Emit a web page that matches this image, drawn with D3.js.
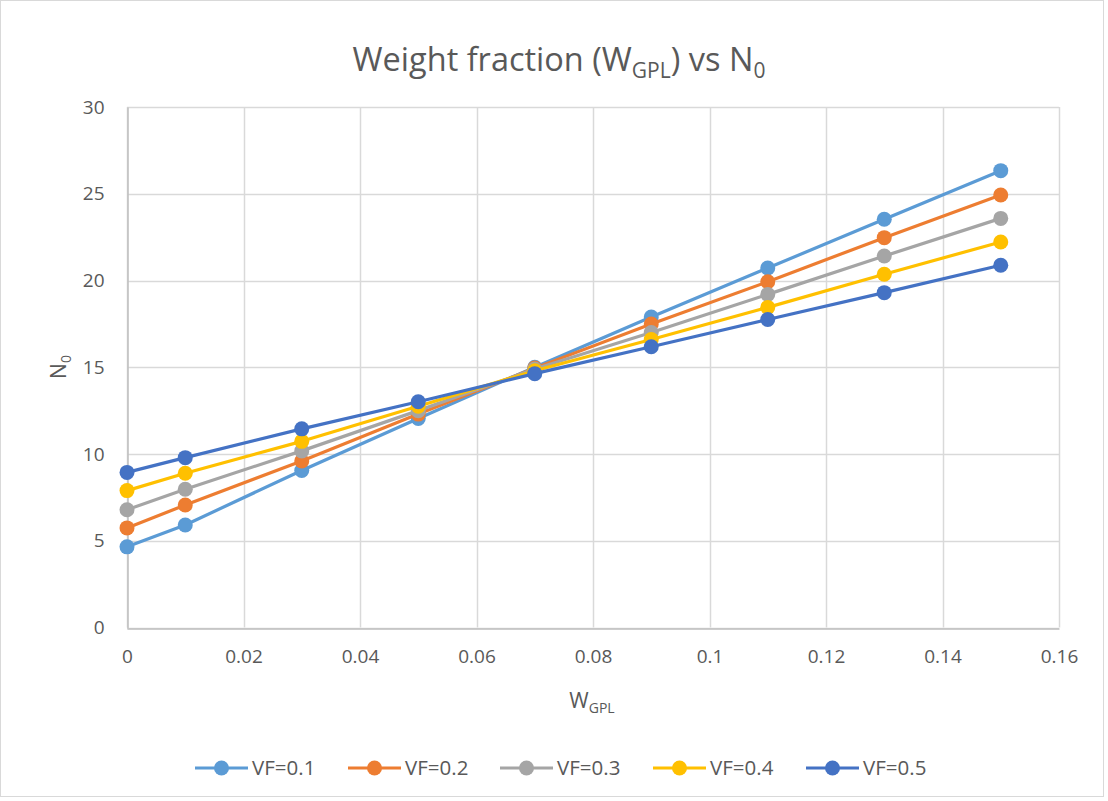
<!DOCTYPE html>
<html>
<head>
<meta charset="utf-8">
<script src="https://cdn.jsdelivr.net/npm/d3@7/dist/d3.min.js"></script>
<style>
  html, body { margin: 0; padding: 0; background: #fff; }
  svg { display: block; font-family: "Open Sans", "Noto Sans", sans-serif; }
</style>
</head>
<body>
<svg id="chart" width="1108" height="801"></svg>
<script>
// Weight fraction of GPL on the x axis
const wGpl = [0, 0.01, 0.03, 0.05, 0.07, 0.09, 0.11, 0.13, 0.15];

// N0 for each volume fraction
const vf01 = [4.65, 5.91, 9.05, 12.05, 15.0, 17.9, 20.72, 23.53, 26.33];
const vf02 = [5.74, 7.06, 9.6, 12.3, 14.95, 17.49, 19.93, 22.47, 24.93];
const vf03 = [6.79, 7.97, 10.18, 12.5, 14.9, 17.0, 19.2, 21.41, 23.58];
const vf04 = [7.89, 8.89, 10.73, 12.75, 14.8, 16.6, 18.45, 20.36, 22.22];
const vf05 = [8.94, 9.79, 11.45, 13.01, 14.63, 16.18, 17.75, 19.3, 20.88];

const seriesNames = ["VF=0.1", "VF=0.2", "VF=0.3", "VF=0.4", "VF=0.5"];
const seriesColors = ["#5B9BD5", "#ED7D31", "#A5A5A5", "#FFC000", "#4472C4"];
const seriesValues = [vf01, vf02, vf03, vf04, vf05];

const xTicks = [0, 0.02, 0.04, 0.06, 0.08, 0.1, 0.12, 0.14, 0.16];
const yTicks = [0, 5, 10, 15, 20, 25, 30];

const svg = d3.select("#chart");
const textColor = "#595959";
const gridColor = "#D9D9D9";

// chart-area frame
svg.append("rect")
  .attr("x", 0.5).attr("y", 0.5)
  .attr("width", 1103).attr("height", 796)
  .attr("fill", "#fff").attr("stroke", gridColor);

const plot = { left: 127, right: 1059, top: 107, bottom: 627.5 };

const x = d3.scaleLinear().domain([0, 0.16]).range([plot.left, plot.right]);
const y = d3.scaleLinear().domain([0, 30]).range([plot.bottom, plot.top]);

// gridlines
const grid = svg.append("g");
grid.selectAll("line.h").data(yTicks).join("line")
  .attr("x1", plot.left).attr("x2", plot.right)
  .attr("y1", d => Math.round(y(d)) + 0.5).attr("y2", d => Math.round(y(d)) + 0.5)
  .attr("stroke", gridColor).attr("stroke-width", 1.5);
grid.selectAll("line.v").data(xTicks).join("line")
  .attr("y1", plot.top).attr("y2", plot.bottom)
  .attr("x1", d => Math.round(x(d)) + 0.5).attr("x2", d => Math.round(x(d)) + 0.5)
  .attr("stroke", gridColor).attr("stroke-width", 1.5);

// axes
const xAxis = svg.append("g")
  .attr("transform", `translate(0,${Math.round(y(0)) + 0.5})`)
  .call(d3.axisBottom(x).tickValues(xTicks).tickSize(0).tickPadding(21)
    .tickFormat(d => d3.format("~g")(d)));
const yAxis = svg.append("g")
  .attr("transform", `translate(${Math.round(x(0)) + 0.5},0)`)
  .call(d3.axisLeft(y).tickValues(yTicks).tickSize(0).tickPadding(23));
[xAxis, yAxis].forEach(a => {
  a.select(".domain").attr("stroke", "#BFBFBF").attr("stroke-width", 1.5);
  a.selectAll("text").attr("fill", textColor).attr("font-size", 19)
    .attr("font-family", '"Open Sans", sans-serif');
});

// series lines and markers
const line = d3.line().x((d, i) => x(wGpl[i])).y(d => y(d));
seriesValues.forEach((vals, s) => {
  const g = svg.append("g");
  g.append("path").datum(vals)
    .attr("d", line).attr("fill", "none")
    .attr("stroke", seriesColors[s]).attr("stroke-width", 3.2)
    .attr("stroke-linejoin", "round");
  g.selectAll("circle").data(vals).join("circle")
    .attr("cx", (d, i) => x(wGpl[i])).attr("cy", d => y(d))
    .attr("r", 7.5).attr("fill", seriesColors[s]);
});

// title
const title = svg.append("text")
  .attr("x", 559).attr("y", 71).attr("text-anchor", "middle")
  .attr("fill", textColor).attr("font-size", 32.5);
title.append("tspan").text("Weight fraction (W");
title.append("tspan").attr("dy", 7).attr("font-size", 21).text("GPL");
title.append("tspan").attr("dy", -7).text(") vs N");
title.append("tspan").attr("dy", 7).attr("font-size", 21).text("0");

// x axis title
const xt = svg.append("text")
  .attr("x", 592).attr("y", 708).attr("text-anchor", "middle")
  .attr("fill", textColor).attr("font-size", 21);
xt.append("tspan").text("W");
xt.append("tspan").attr("dy", 5).attr("font-size", 14).text("GPL");

// y axis title
const yt = svg.append("text")
  .attr("transform", "translate(66,367) rotate(-90)")
  .attr("text-anchor", "middle")
  .attr("fill", textColor).attr("font-size", 21);
yt.append("tspan").text("N");
yt.append("tspan").attr("dy", 5).attr("font-size", 14).text("0");

// legend
const legendX = [195, 348, 500, 653, 806];
const legend = svg.append("g").selectAll("g").data(seriesNames).join("g")
  .attr("transform", (d, i) => `translate(${legendX[i]},768)`);
legend.append("line")
  .attr("x1", 0).attr("x2", 53).attr("y1", 0).attr("y2", 0)
  .attr("stroke", (d, i) => seriesColors[i]).attr("stroke-width", 3.2);
legend.append("circle")
  .attr("cx", 26.5).attr("cy", 0).attr("r", 7.5)
  .attr("fill", (d, i) => seriesColors[i]);
legend.append("text")
  .attr("x", 57).attr("y", 7)
  .attr("fill", textColor).attr("font-size", 20.5)
  .text(d => d);
</script>
</body>
</html>
